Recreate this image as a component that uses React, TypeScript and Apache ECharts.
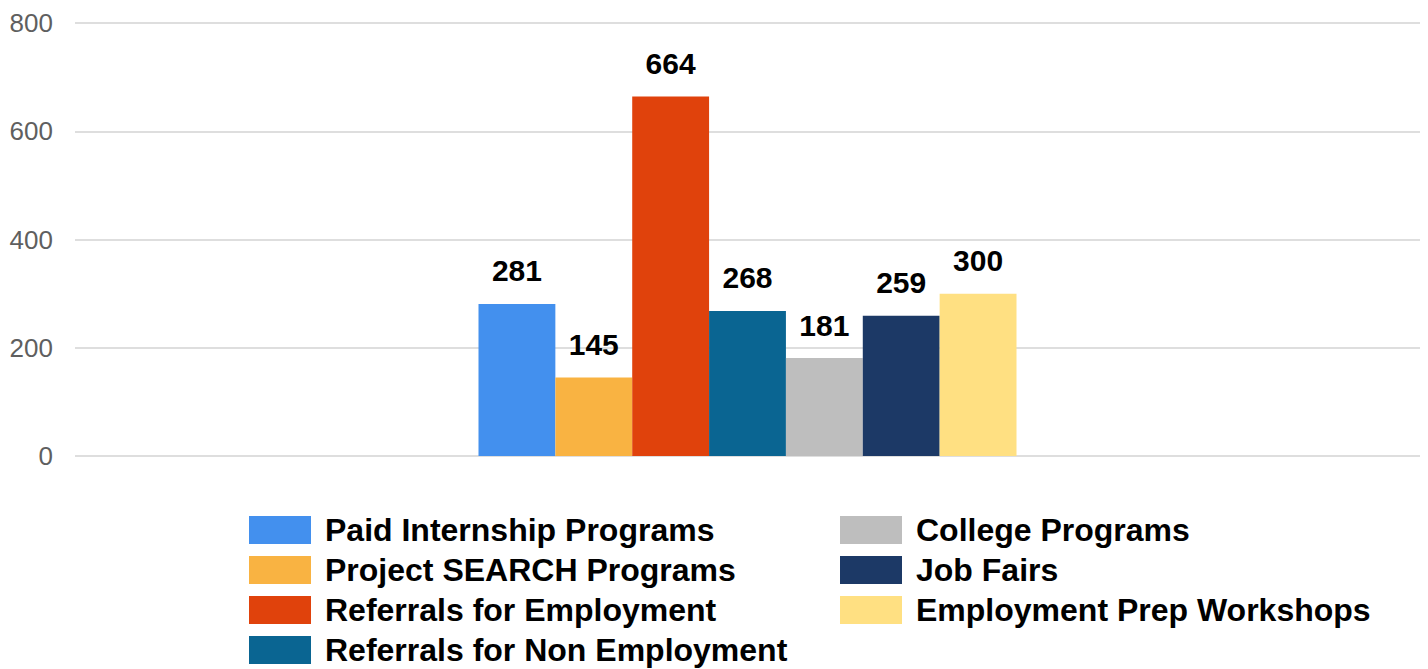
import React, { useEffect, useRef } from "react";
import * as echarts from "echarts";

const categories = ["Total"];
const seriesNames = [
  "Paid Internship Programs",
  "Project SEARCH Programs",
  "Referrals for Employment",
  "Referrals for Non Employment",
  "College Programs",
  "Job Fairs",
  "Employment Prep Workshops",
];
const seriesValues = [281, 145, 664, 268, 181, 259, 300];
const seriesColors = ["#4390EE", "#F9B342", "#E0420C", "#0A6592", "#BEBEBE", "#1C3966", "#FFE082"];
const yTicks = { min: 0, max: 800, interval: 200 };

export default function App() {
  const ref = useRef<HTMLDivElement>(null);
  useEffect(() => {
    if (!ref.current) return;
    const chart = echarts.init(ref.current, undefined, { renderer: "svg" });
    const font = "'Liberation Sans', Arial, sans-serif";
    const legendCommon = {
      orient: "vertical" as const,
      itemWidth: 62,
      itemHeight: 28,
      itemGap: 8,
      padding: 0,
      height: 200,
      icon: "rect",
      textStyle: {
        fontFamily: font,
        fontSize: 32,
        fontWeight: "bold" as const,
        color: "#000",
        lineHeight: 32,
        padding: [0, 0, 0, 9],
      },
    };
    chart.setOption({
      animation: false,
      textStyle: { fontFamily: font },
      grid: { left: 75, right: 8, top: 23, bottom: 213 },
      legend: [
        { ...legendCommon, left: 249, top: 514, data: seriesNames.slice(0, 4) },
        { ...legendCommon, left: 840, top: 514, data: seriesNames.slice(4) },
      ],
      xAxis: {
        type: "category",
        data: categories,
        axisLabel: { show: false },
        axisTick: { show: false },
        axisLine: { show: false },
      },
      yAxis: {
        type: "value",
        min: yTicks.min,
        max: yTicks.max,
        interval: yTicks.interval,
        axisLabel: { fontFamily: font, fontSize: 26, color: "#5f5f5f", margin: 22 },
        splitLine: { lineStyle: { color: "#dedede", width: 2 } },
        axisLine: { show: false },
        axisTick: { show: false },
      },
      series: seriesNames.map((name, i) => ({
        name,
        type: "bar",
        data: [seriesValues[i]],
        barGap: "0%",
        barCategoryGap: "60%",
        itemStyle: { color: seriesColors[i] },
        label: {
          show: true,
          position: "top",
          distance: 18,
          fontFamily: font,
          fontSize: 30,
          fontWeight: "bold",
          color: "#000",
        },
      })),
    });
    return () => chart.dispose();
  }, []);
  return (
    <div
      ref={ref}
      style={{ position: "absolute", left: 0, top: 0, width: 1428, height: 669, background: "#fff" }}
    />
  );
}
